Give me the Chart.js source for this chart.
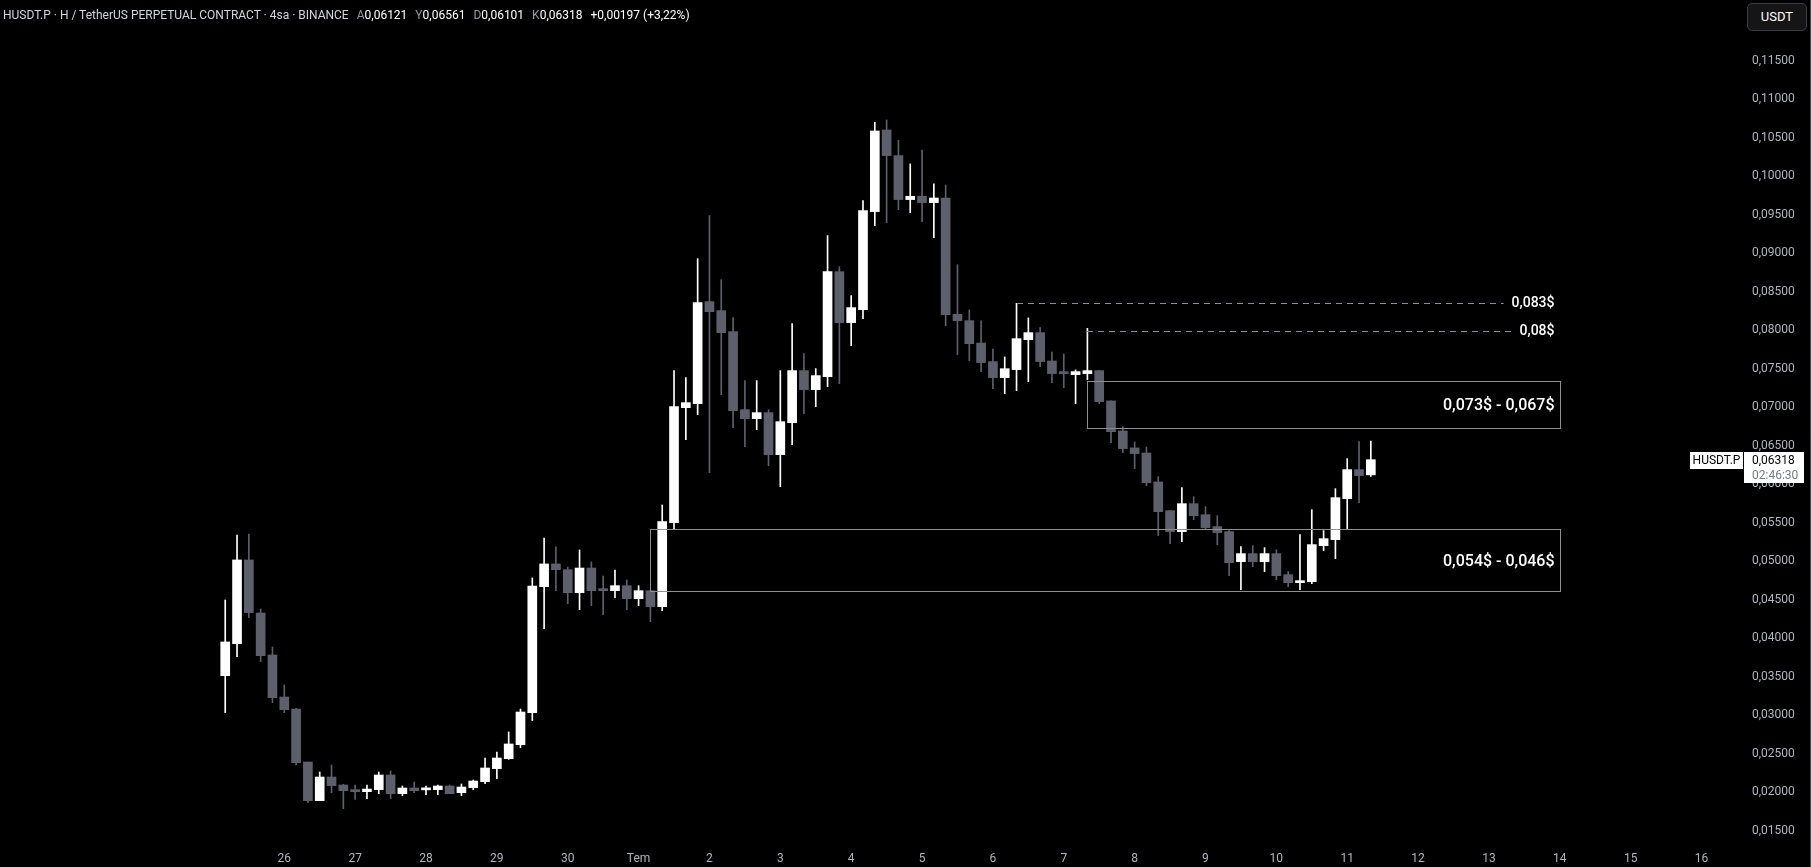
<!DOCTYPE html>
<html>
<head>
<meta charset="utf-8">
<script src="https://cdn.jsdelivr.net/npm/chart.js@4/dist/chart.umd.min.js"></script>
<style>
html,body{margin:0;padding:0;background:#000;}
#wrap{position:relative;width:1811px;height:867px;background:#000;overflow:hidden;}
#c{position:absolute;left:0;top:0;}
#title{position:absolute;left:3px;top:7px;font:12px Roboto, sans-serif;color:#d1d4dc;white-space:nowrap;line-height:16px;display:flex;}
#title span.s{margin-left:8px;}
.g{color:#9598a1;}
.w{color:#ffffff;}
#usdt{position:absolute;left:1747px;top:3px;width:60px;height:28px;border:1px solid #3a3d45;border-radius:5px;background:#151515;color:#fff;font:13px Roboto, sans-serif;line-height:26px;text-align:center;box-sizing:border-box;}
</style>
</head>
<body>
<div id="wrap">
<canvas id="c" width="1811" height="867"></canvas>
<div id="title"><span>HUSDT.P · H / TetherUS PERPETUAL CONTRACT · 4sa · BINANCE</span><span class="s"><span class="g">A</span><span class="w">0,06121</span></span><span class="s"><span class="g">Y</span><span class="w">0,06561</span></span><span class="s"><span class="g">D</span><span class="w">0,06101</span></span><span class="s"><span class="g">K</span><span class="w">0,06318</span></span><span class="s w">+0,00197 (+3,22%)</span></div>
<div id="usdt">USDT</div>
</div>
<script>
// ---- data (4h candles, slot 0 = 25 Jun 04:00) ----
const opens = [
0.03513,0.03929,0.05016,0.04327,0.03782,0.03236,0.0308,0.02392,0.0189,0.02197,
0.02093,0.02029,0.02007,0.02033,0.02223,0.01981,0.02054,0.0203,0.02033,0.0208,
0.01994,0.02059,0.02137,0.02306,0.02435,0.02617,0.03033,0.04669,0.04964,0.0489,
0.04591,0.04911,0.0463,0.04617,0.04682,0.04513,0.04617,0.0441,0.055,0.06994,
0.07046,0.08371,0.08254,0.07981,0.06968,0.06851,0.06929,0.06384,0.06799,0.07475,
0.07228,0.07397,0.0876,0.08098,0.08267,0.0954,0.106,0.10267,0.09696,0.09739,
0.09657,0.09717,0.08206,0.08124,0.07833,0.07592,0.07384,0.07488,0.07877,0.07968,
0.076,0.07449,0.07423,0.07436,0.07475,0.07081,0.06691,0.06471,0.06405,0.06029,
0.05656,0.05384,0.05747,0.05604,0.05449,0.05384,0.04994,0.05098,0.04994,0.05098,
0.04825,0.04721,0.04734,0.05202,0.0528,0.05812,0.06189,0.06121];
const highs = [
0.04496,0.0534,0.05353,0.04379,0.03886,0.03392,0.03089,0.02392,0.02262,0.02353,
0.02102,0.02093,0.02093,0.02262,0.02275,0.0208,0.02132,0.0208,0.02093,0.02093,
0.02106,0.02158,0.02444,0.02522,0.02782,0.0308,0.04782,0.05301,0.05185,0.04925,
0.05145,0.0499,0.04808,0.04886,0.04756,0.04682,0.04617,0.0573,0.07475,0.07384,
0.08929,0.09488,0.08657,0.08163,0.07345,0.07345,0.06968,0.07475,0.08085,0.07695,
0.07501,0.09228,0.08825,0.08449,0.09683,0.107,0.1073,0.10466,0.10159,0.1034,
0.09899,0.09886,0.08851,0.08263,0.0812,0.07756,0.07652,0.08349,0.08159,0.08033,
0.07717,0.07691,0.07484,0.08024,0.07475,0.07081,0.06747,0.06548,0.06483,0.06098,
0.05657,0.05955,0.05838,0.05708,0.05591,0.05397,0.05189,0.05202,0.05176,0.0515,
0.04864,0.05345,0.05669,0.05397,0.05942,0.06332,0.06552,0.06561];
const lows = [
0.03033,0.0376,0.04267,0.03695,0.03163,0.03033,0.02353,0.01864,0.0189,0.01994,
0.01786,0.01907,0.01916,0.01981,0.01916,0.01955,0.01994,0.01968,0.01968,0.01981,
0.01955,0.02033,0.02111,0.02176,0.02427,0.02578,0.02929,0.04124,0.04617,0.04448,
0.0437,0.04422,0.04305,0.04526,0.0437,0.04422,0.04215,0.04357,0.0541,0.06578,
0.06903,0.0615,0.07163,0.06734,0.06488,0.06708,0.0624,0.05968,0.06514,0.06916,
0.07007,0.07267,0.07306,0.07799,0.0815,0.09358,0.09397,0.09565,0.09527,0.0941,
0.09202,0.08059,0.07683,0.07605,0.07462,0.07241,0.07176,0.07215,0.07332,0.07527,
0.07319,0.07254,0.07046,0.07358,0.07046,0.06539,0.0641,0.06202,0.05981,0.05332,
0.05228,0.05254,0.05539,0.0541,0.05215,0.04812,0.0463,0.04929,0.04864,0.0476,
0.04669,0.0463,0.04708,0.05137,0.05033,0.0541,0.0576,0.06101];
const closes = [
0.03951,0.05016,0.04332,0.03773,0.03228,0.03072,0.02383,0.0189,0.02197,0.02085,
0.0202,0.02007,0.02041,0.02223,0.01981,0.02054,0.0202,0.0205,0.0208,0.01981,
0.02067,0.02145,0.02314,0.02444,0.02626,0.03041,0.04678,0.04964,0.0489,0.04591,
0.04911,0.04617,0.04617,0.04682,0.04513,0.04617,0.0441,0.05513,0.07007,0.07059,
0.08358,0.0824,0.07968,0.06955,0.06851,0.06929,0.06384,0.06812,0.07475,0.07228,
0.0741,0.0876,0.08098,0.08293,0.09553,0.10587,0.10267,0.09696,0.09739,0.09657,
0.09717,0.08202,0.08124,0.07825,0.07579,0.07384,0.075,0.0789,0.07968,0.07592,
0.07436,0.07436,0.07462,0.07475,0.07072,0.06682,0.06462,0.06397,0.0602,0.05643,
0.05384,0.05747,0.05591,0.05436,0.05371,0.04981,0.05098,0.04994,0.05098,0.04812,
0.04721,0.04747,0.05215,0.05293,0.05825,0.06189,0.06111,0.06318];

// x-axis day labels (first label sits on slot 5, one day = 6 slots)
const dayLabels = ['26','27','28','29','30','Tem','2','3','4','5','6','7','8','9','10','11','12','13','14','15','16'];
const firstDaySlot = 5;
const slotsPerDay = 6;
// y-axis tick values
const yTicks = [0.015,0.02,0.025,0.03,0.035,0.04,0.045,0.05,0.055,0.06,0.065,0.07,0.075,0.08,0.085,0.09,0.095,0.1,0.105,0.11,0.115];

// annotations
const levelValues = [0.0835, 0.0799];
const levelLabels = ['0,083$', '0,08$'];
const levelStart = [67, 73];
const boxTops = [0.0734, 0.0542];
const boxBottoms = [0.0673, 0.0461];
const boxStart = [73, 36];
const boxLabels = ['0,073$ - 0,067$', '0,054$ - 0,046$'];
const zoneEnd = 113;
const symbolName = 'HUSDT.P';
const countdown = '02:46:30';

// ---- chart ----
const UP = '#ffffff', DOWN = '#5d606b';
const slotIdx = opens.map((_, i) => i);
const bodyData = slotIdx.map(i => ({x: i, y: [opens[i], closes[i]]}));
const wickData = slotIdx.map(i => ({x: i, y: [lows[i], highs[i]]}));
const colorFor = c => closes[c.dataIndex] >= opens[c.dataIndex] ? UP : DOWN;
const dayTickSlots = dayLabels.map((_, k) => firstDaySlot + k * slotsPerDay);
const fmt = v => v.toFixed(5).replace('.', ',');

const annot = {
  id: 'annot',
  afterDraw(chart) {
    const {ctx, chartArea} = chart;
    const x = chart.scales.x, y = chart.scales.y;
    ctx.save();
    const xr = Math.round(x.getPixelForValue(zoneEnd)) + 0.5;
    // dashed levels
    ctx.font = '500 14px Roboto, sans-serif';
    levelValues.forEach((v, k) => {
      const py = Math.round(y.getPixelForValue(v)) + 0.5;
      const x0 = Math.round(x.getPixelForValue(levelStart[k]));
      const tw = ctx.measureText(levelLabels[k]).width;
      ctx.setLineDash([6, 5]);
      ctx.strokeStyle = '#8c8f96';
      ctx.lineWidth = 1;
      ctx.beginPath(); ctx.moveTo(x0, py); ctx.lineTo(xr - 6 - tw - 8, py); ctx.stroke();
      ctx.setLineDash([]);
      ctx.fillStyle = '#ffffff';
      ctx.textAlign = 'right'; ctx.textBaseline = 'middle';
      ctx.fillText(levelLabels[k], xr - 6, py);
    });
    // boxes
    ctx.font = '500 16px Roboto, sans-serif';
    boxTops.forEach((t, k) => {
      const yt = Math.round(y.getPixelForValue(t)) + 0.5;
      const yb = Math.round(y.getPixelForValue(boxBottoms[k])) + 0.5;
      const x0 = Math.round(x.getPixelForValue(boxStart[k])) + 0.5;
      ctx.strokeStyle = '#8f8f8f';
      ctx.lineWidth = 1;
      ctx.strokeRect(x0, yt, xr - x0, yb - yt);
      ctx.fillStyle = '#ffffff';
      ctx.textAlign = 'right'; ctx.textBaseline = 'middle';
      ctx.fillText(boxLabels[k], xr - 6, (yt + yb) / 2 + 1);
    });
    // last price label
    const last = closes.length - 1;
    const cy = Math.round(y.getPixelForValue(closes[last]));
    const ar = chartArea.right;
    ctx.fillStyle = '#ffffff';
    ctx.fillRect(ar - 55, cy - 8, 53, 17);
    ctx.fillRect(ar - 1, cy - 8, 60, 31);
    ctx.font = '12px Roboto, sans-serif';
    ctx.textBaseline = 'middle';
    ctx.textAlign = 'center';
    ctx.fillStyle = '#000000';
    ctx.fillText(symbolName, ar - 28.5, cy + 1);
    ctx.textAlign = 'left';
    ctx.fillText(fmt(closes[last]), ar + 7, cy + 1);
    ctx.fillStyle = '#787b86';
    ctx.fillText(countdown, ar + 7, cy + 16);
    // right border
    ctx.strokeStyle = '#4a4a4a';
    ctx.beginPath(); ctx.moveTo(1810.5, 0); ctx.lineTo(1810.5, 867); ctx.stroke();
    ctx.restore();
  }
};

new Chart(document.getElementById('c'), {
  type: 'bar',
  data: {
    datasets: [
      {label: 'wick', data: wickData, backgroundColor: colorFor, barThickness: 1, grouped: false, order: 2},
      {label: 'body', data: bodyData, backgroundColor: colorFor, barThickness: 9, grouped: false, minBarLength: 2, order: 1}
    ]
  },
  options: {
    responsive: false,
    animation: false,
    devicePixelRatio: 1,
    layout: {padding: 0},
    plugins: {legend: {display: false}, tooltip: {enabled: false}},
    scales: {
      x: {
        type: 'linear', min: -19.07, max: 128.68, offset: false,
        grid: {display: false, drawTicks: false}, border: {display: false},
        afterBuildTicks: s => { s.ticks = dayTickSlots.map(v => ({value: v})); },
        afterFit: s => { s.height = 27; s.paddingLeft = 0; s.paddingRight = 0; },
        ticks: {color: '#b2b5be', font: {family: 'Roboto', size: 12}, padding: 12, autoSkip: false, maxRotation: 0,
          callback: (v, i) => dayLabels[i]}
      },
      y: {
        position: 'right', min: 0.01379, max: 0.12288,
        grid: {display: false, drawTicks: false}, border: {display: false},
        afterBuildTicks: s => { s.ticks = yTicks.map(v => ({value: v})); },
        afterFit: s => { s.width = 66; s.paddingTop = 0; s.paddingBottom = 0; },
        ticks: {color: '#b2b5be', font: {family: 'Roboto', size: 12}, padding: 7, callback: v => fmt(v)}
      }
    }
  },
  plugins: [annot]
});
</script>
</body>
</html>
